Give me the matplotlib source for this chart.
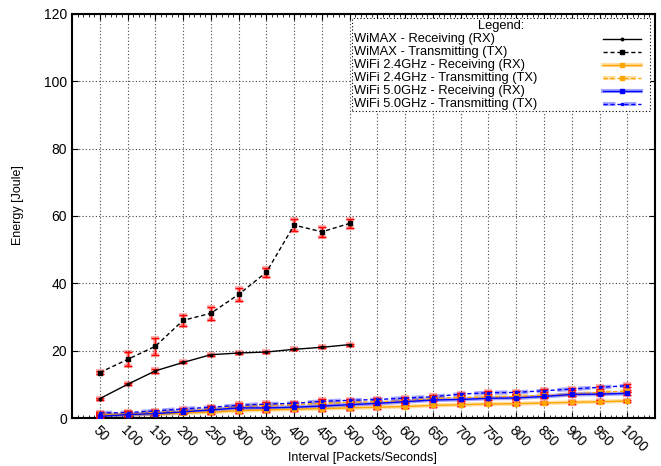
import matplotlib
matplotlib.use("Agg")
import matplotlib.pyplot as plt
from matplotlib.ticker import MultipleLocator
from matplotlib.lines import Line2D
from matplotlib.patches import Rectangle

plt.rcParams['font.family'] = ['Liberation Sans', 'DejaVu Sans']

x_wimax = [50, 100, 150, 200, 250, 300, 350, 400, 450, 500]
wimax_rx = [5.75, 10.0, 14.0, 16.5, 18.8, 19.3, 19.6, 20.4, 21.0, 21.8]
wimax_rx_err = [0.3, 0.3, 0.6, 0.3, 0.3, 0.3, 0.3, 0.3, 0.3, 0.3]
wimax_tx = [13.5, 17.4, 21.3, 29.0, 31.1, 36.7, 43.3, 57.3, 55.3, 57.8]
wimax_tx_err = [0.5, 2.1, 2.6, 1.6, 1.9, 2.0, 1.4, 1.9, 1.4, 1.3]

x_wifi = [50, 100, 150, 200, 250, 300, 350, 400, 450, 500,
          550, 600, 650, 700, 750, 800, 850, 900, 950, 1000]
wifi24_rx = [0.8, 1.0, 1.1, 1.5, 1.7, 2.2, 2.4, 2.6, 2.8, 3.0,
             3.2, 3.4, 3.75, 3.95, 4.15, 4.25, 4.45, 4.65, 4.85, 5.05]
wifi24_tx = [1.1, 1.3, 1.7, 2.0, 2.7, 3.4, 3.75, 3.95, 4.35, 4.65,
             4.85, 5.05, 5.8, 6.1, 6.2, 6.4, 6.7, 7.0, 7.6, 8.0]
wifi50_rx = [0.5, 1.0, 1.3, 1.8, 2.4, 3.0, 3.0, 3.2, 3.55, 3.95,
             4.35, 4.85, 5.35, 5.5, 5.85, 5.95, 6.4, 7.0, 7.1, 7.3]
wifi50_tx = [1.5, 1.6, 2.1, 2.7, 3.2, 3.75, 4.15, 4.35, 4.95, 5.25,
             5.5, 5.9, 6.3, 7.1, 7.5, 7.6, 8.1, 8.6, 9.1, 9.6]
wifi_err = [0.4, 0.4, 0.3, 0.4, 0.5, 0.6, 0.5, 0.5, 0.6, 0.5,
            0.4, 0.4, 0.4, 0.4, 0.4, 0.4, 0.4, 0.4, 0.4, 0.4]

labels = ["WiMAX - Receiving (RX)", "WiMAX - Transmitting (TX)",
          "WiFi 2.4GHz - Receiving (RX)", "WiFi 2.4GHz - Transmitting (TX)",
          "WiFi 5.0GHz - Receiving (RX)", "WiFi 5.0GHz - Transmitting (TX)"]
x_ticks = list(range(50, 1001, 50))
y_ticks = list(range(0, 121, 20))

fig = plt.figure(figsize=(6.61, 4.66), dpi=100)
ax = fig.add_axes([0.109, 0.103, 0.882, 0.867])

ORANGE = '#ffa500'
BLUE = '#0000ff'
DASH = (0, (3, 2))

def err(x, y, e):
    ax.errorbar(x, y, yerr=e, fmt='none', ecolor='#ff0000', alpha=0.3,
                elinewidth=3, capsize=3, capthick=3, zorder=3)
    ax.errorbar(x, y, yerr=e, fmt='none', ecolor='#ff0000',
                elinewidth=1, capsize=3, capthick=1, zorder=4)

series = [
    (x_wimax, wimax_rx, wimax_rx_err, 'black', '-', 'o', 1.8, False),
    (x_wimax, wimax_tx, wimax_tx_err, 'black', DASH, 's', 2.2, False),
    (x_wifi, wifi24_rx, wifi_err, ORANGE, '-', 's', 2.2, True),
    (x_wifi, wifi24_tx, wifi_err, ORANGE, DASH, 's', 2.2, True),
    (x_wifi, wifi50_rx, wifi_err, BLUE, '-', 's', 2.2, True),
    (x_wifi, wifi50_tx, wifi_err, BLUE, DASH, 's', 2.0, True),
]
for (x, y, e, c, ls, m, ms, band) in series:
    if band:
        ax.plot(x, y, color=c, lw=3, alpha=0.35, ls=ls, zorder=2)
    ax.plot(x, y, color=c, lw=1, ls=ls, marker=m, ms=ms, zorder=5)
    err(x, y, e)

ax.set_xlim(0, 1050)
ax.set_ylim(0, 120)
ax.set_xticks(x_ticks)
ax.set_xticklabels([str(t) for t in x_ticks], rotation=-45, ha='left',
                   va='top', rotation_mode='anchor', fontsize=10)
ax.xaxis.set_minor_locator(MultipleLocator(10))
ax.set_yticks(y_ticks)
ax.set_yticklabels([str(t) for t in y_ticks], fontsize=10)
ax.tick_params(which='both', direction='in', top=True, right=True)
ax.tick_params(which='major', length=4, width=0.8)
ax.tick_params(which='minor', length=2, width=0.6)
ax.tick_params(axis='x', which='major', pad=4)
ax.grid(True, which='major', ls=(0, (1, 2)), color='#444444', lw=0.8)
for s in ax.spines.values():
    s.set_linewidth(1.5)

fig.text(0.549, 0.018, "Interval [Packets/Seconds]", fontsize=9,
         ha='center', va='center')
fig.text(0.027, 0.56, "Energy [Joule]", fontsize=9, rotation=90,
         ha='center', va='center')

# gnuplot-style legend: labels on the left, samples on the right
bx0, bx1, by0, by1 = 0.480, 0.991, 0.760, 0.990
ax.add_patch(Rectangle((bx0, by0), bx1 - bx0, by1 - by0, transform=ax.transAxes,
                       facecolor='white', edgecolor='black', lw=0.8,
                       ls=(0, (1, 2)), zorder=10))
ax.text((bx0 + bx1) / 2, 0.971, "Legend:", transform=ax.transAxes,
        fontsize=9.3, ha='center', va='center', zorder=11)
row_y0 = 0.9385
row_dy = 0.0325
for i, (lab, (x, y, e, c, ls, m, ms, band)) in enumerate(zip(labels, series)):
    yy = row_y0 - i * row_dy
    ax.text(0.483, yy, lab, transform=ax.transAxes, fontsize=9.3,
            ha='left', va='center', zorder=11)
    if band:
        ax.add_line(Line2D([0.911, 0.976], [yy, yy], transform=ax.transAxes,
                           color=c, lw=3, alpha=0.35, ls=ls, zorder=11))
    ax.add_line(Line2D([0.911, 0.976], [yy, yy], transform=ax.transAxes,
                       color=c, lw=1, ls=ls, zorder=12))
    ax.add_line(Line2D([0.9435], [yy], transform=ax.transAxes, color=c,
                       marker=m, ms=ms, zorder=12))

fig.savefig("out.png", dpi=100)
